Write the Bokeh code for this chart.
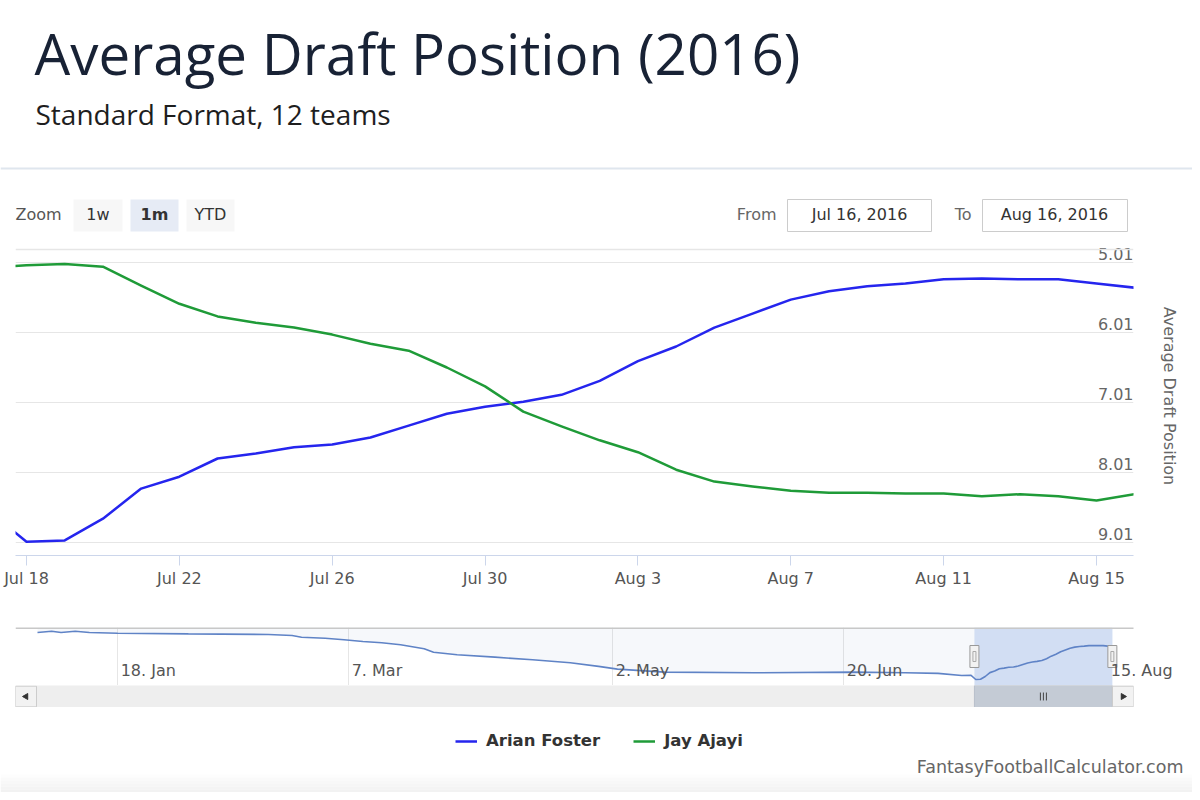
import math
import pandas as pd
from bokeh.plotting import figure
from bokeh.layouts import column
from bokeh.models import (Range1d, FixedTicker, DatetimeTickFormatter, Span, Legend,
                          LegendItem, LabelSet, ColumnDataSource, Grid)
from bokeh.core.properties import value
from bokeh.embed import file_html
from bokeh.resources import INLINE

# ------------------------------------------------------------------ data
title_text = "Average Draft Position (2016)"
subtitle_text = "Standard Format, 12 teams"
y_title = "Average Draft Position"
credits_text = "FantasyFootballCalculator.com"
series_names = ["Arian Foster", "Jay Ajayi"]
series_colors = ["#2525ee", "#1f9b38"]

dates = [d.strftime("%Y-%m-%d") for d in pd.date_range("2016-07-17", "2016-08-16")]
foster = [8.55, 9.00, 8.98, 8.67, 8.24, 8.07, 7.81, 7.74, 7.65, 7.61, 7.51, 7.34, 7.17, 7.07, 7.00,
          6.90, 6.70, 6.42, 6.21, 5.94, 5.74, 5.54, 5.42, 5.35, 5.31, 5.25, 5.24, 5.25, 5.25, 5.31, 5.37]
ajayi = [5.08, 5.05, 5.03, 5.07, 5.34, 5.60, 5.78, 5.87, 5.94, 6.04, 6.17, 6.27, 6.51, 6.78, 7.14,
         7.35, 7.55, 7.72, 7.97, 8.14, 8.21, 8.27, 8.30, 8.30, 8.31, 8.31, 8.35, 8.32, 8.35, 8.41, 8.32]

ytick_values = [5.01, 6.01, 7.01, 8.01, 9.01]
xtick_dates = ["2016-07-18", "2016-07-22", "2016-07-26", "2016-07-30",
               "2016-08-03", "2016-08-07", "2016-08-11", "2016-08-15"]

# navigator (Arian Foster, whole season so far)
nav_early_dates = ["2016-01-01", "2016-01-04", "2016-01-06", "2016-01-09", "2016-01-12", "2016-01-18",
                   "2016-02-02", "2016-02-19", "2016-02-24", "2016-02-26", "2016-03-02", "2016-03-06",
                   "2016-03-10", "2016-03-14", "2016-03-18", "2016-03-23", "2016-03-25", "2016-03-30",
                   "2016-04-07", "2016-04-15", "2016-04-23", "2016-04-29", "2016-05-03", "2016-05-13",
                   "2016-06-01", "2016-06-22", "2016-07-03", "2016-07-10", "2016-07-15"]
nav_early_values = [3.80, 3.66, 3.80, 3.66, 3.80, 3.88, 3.95, 4.02, 4.13, 4.32, 4.43, 4.61,
                    4.80, 4.94, 5.16, 5.60, 5.98, 6.27, 6.53, 6.82, 7.15, 7.55, 7.85, 8.19,
                    8.26, 8.19, 8.26, 8.32, 8.56]
nav_tick_dates = ["2016-01-18", "2016-03-07", "2016-05-02", "2016-06-20", "2016-08-15"]

zoom_buttons = ["1w", "1m", "YTD"]
selected_button = "1m"
range_from = "Jul 16, 2016"
range_to = "Aug 16, 2016"

# ------------------------------------------------------------------ helpers
DAY = 86400000.0
UI_FONT = "DejaVu Sans"
W = 1192
PLOT_L, PLOT_R = 15, 1133          # plot area edges (px)
HDR_H = 236


def ms(s):
    return pd.Timestamp(s).value / 1e6


def bare(p):
    p.grid.visible = False
    p.outline_line_color = None
    p.background_fill_color = "white"
    p.border_fill_color = "white"


# ------------------------------------------------------------------ header
hdr = figure(width=W, height=HDR_H, x_range=Range1d(0, W), y_range=Range1d(HDR_H, 0),
             x_axis_location=None, y_axis_location=None, min_border=0, frame_align=False,
             output_backend="svg", toolbar_location=None)
bare(hdr)
hdr.text(x=[34], y=[53], text=[title_text], text_font=value("Open Sans"), text_font_size="56.5px",
         text_color="#182235", text_baseline="middle")
hdr.text(x=[35], y=[113], text=[subtitle_text], text_font=value("Open Sans"), text_font_size="28px",
         text_color="#1e1e1e", text_baseline="middle")
hdr.segment(x0=[0], y0=[168], x1=[W], y1=[168], line_color="#dfe6ee", line_width=2)

hdr.text(x=[15], y=[214], text=["Zoom"], text_font=value(UI_FONT), text_font_size="16px",
         text_color="#555555", text_baseline="middle")
btn_src = ColumnDataSource(dict(
    left=[73, 130, 186], right=[122, 178, 234], cx=[97.5, 154, 210],
    text=zoom_buttons,
    fill=["#e6ebf5" if b == selected_button else "#f7f7f7" for b in zoom_buttons],
    style=["bold" if b == selected_button else "normal" for b in zoom_buttons]))
hdr.quad(left="left", right="right", top=199, bottom=231, fill_color="fill", line_color=None, source=btn_src)
hdr.text(x="cx", y=214, text="text", text_font=value(UI_FONT), text_font_size="16px",
         text_font_style="style", text_color="#333333", text_align="center",
         text_baseline="middle", source=btn_src)

hdr.text(x=[776, 971], y=[214, 214], text=["From", "To"], text_font=value(UI_FONT),
         text_font_size="16px", text_color="#666666", text_align="right", text_baseline="middle")
hdr.quad(left=[787, 982], right=[931, 1127], top=199, bottom=231, fill_color="white",
         line_color="#cccccc", line_width=1)
hdr.text(x=[859, 1054], y=[214, 214], text=[range_from, range_to], text_font=value(UI_FONT),
         text_font_size="16px", text_color="#333333", text_align="center", text_baseline="middle")

# ------------------------------------------------------------------ main chart
PX_PER_UNIT = 70.0
x_start = ms("2016-07-18") - 0.288 * DAY
x_end = ms("2016-08-15") + 0.968 * DAY
y_frame_top = ytick_values[0] - 26 / PX_PER_UNIT     # frame reaches above the plot line
y_plot_top = ytick_values[0] - 13 / PX_PER_UNIT      # top plot border line
y_bottom = ytick_values[-1] + 13 / PX_PER_UNIT

main = figure(width=W, height=369, x_axis_type="datetime", y_axis_location="right",
              x_range=Range1d(x_start, x_end), y_range=Range1d(y_bottom, y_frame_top),
              min_border_left=PLOT_L, min_border_right=W - PLOT_R, min_border_top=0,
              min_border_bottom=50, frame_align=False,
              output_backend="svg", toolbar_location=None)
main.outline_line_color = None
main.xgrid.visible = False
main.ygrid.ticker = FixedTicker(ticks=ytick_values)
main.ygrid.grid_line_color = "#e6e6e6"
main.ygrid.grid_line_width = 1.2

xa = main.xaxis[0]
xa.ticker = FixedTicker(ticks=[ms(d) for d in xtick_dates])
xa.formatter = DatetimeTickFormatter(days="%b %-d", months="%b %-d", hours="%b %-d",
                                     hourmin="%b %-d", years="%b %-d")
xa.axis_line_color = "#ccd6eb"
xa.axis_line_width = 1.2
xa.major_tick_line_color = "#ccd6eb"
xa.major_tick_out = 10
xa.major_tick_in = 0
xa.minor_tick_line_color = None
xa.major_label_standoff = 3
xa.major_label_text_font = UI_FONT
xa.major_label_text_font_size = "16px"
xa.major_label_text_color = "#555555"

ya = main.yaxis[0]
ya.ticker = FixedTicker(ticks=[])
ya.axis_line_color = None
ya.major_tick_line_color = None
ya.minor_tick_line_color = None
ya.axis_label = y_title
ya.axis_label_standoff = 26
ya.axis_label_text_font = UI_FONT
ya.axis_label_text_font_size = "16px"
ya.axis_label_text_font_style = "normal"
ya.axis_label_text_color = "#666666"

main.add_layout(Span(location=y_plot_top, dimension="width", line_color="#e6e6e6", line_width=1.5))

src = ColumnDataSource(dict(x=[ms(d) for d in dates], foster=foster, ajayi=ajayi))
main.line("x", "foster", source=src, line_color=series_colors[0], line_width=2.5, line_join="round")
main.line("x", "ajayi", source=src, line_color=series_colors[1], line_width=2.5, line_join="round")

main.text(x=x_end, y=ytick_values, text=[f"{v:.2f}" for v in ytick_values],
          text_align="right", text_baseline="middle", y_offset=-9,
          text_font=value(UI_FONT), text_font_size="16px", text_color="#666666")

# ------------------------------------------------------------------ navigator
NAV_DAY_PX = 4.715                               # px per day in the navigator
nav_x_start = ms("2016-01-01") - 22 / NAV_DAY_PX * DAY
nav_plot_end = nav_x_start + (PLOT_R - PLOT_L) / NAV_DAY_PX * DAY
nav_frame_end = nav_x_start + (W - PLOT_L) / NAV_DAY_PX * DAY
nav_y_top = 3.249
nav_y_bottom = 9.665

nav = figure(width=W, height=80, x_axis_type="datetime",
             x_range=Range1d(nav_x_start, nav_frame_end), y_range=Range1d(nav_y_bottom, nav_y_top),
             x_axis_location=None, y_axis_location=None,
             min_border_left=PLOT_L, min_border_right=0, min_border_top=22, min_border_bottom=0,
             frame_align=False, output_backend="svg", toolbar_location=None)
bare(nav)
nav.add_layout(Grid(dimension=0, ticker=FixedTicker(ticks=[ms(d) for d in nav_tick_dates[:-1]]),
                    grid_line_color="#e6e6e6", grid_line_width=1))

nav_x = [ms(d) for d in nav_early_dates] + [ms(d) for d in dates]
nav_y = nav_early_values + foster
nav.varea(x=nav_x, y1=nav_y, y2=nav_y_top, fill_color="#6685c2", fill_alpha=0.06)
nav.quad(left=[x_start], right=[x_end], top=nav_y_top, bottom=nav_y_bottom,
         fill_color="#d2def3", line_color=None)
nav.line(nav_x, nav_y, line_color="#5f83c6", line_width=1.6)
nav.segment(x0=[nav_x_start], y0=[nav_y_top], x1=[nav_plot_end], y1=[nav_y_top],
            line_color="#c8c8c8", line_width=3)

nav_mid = (nav_y_top + nav_y_bottom) / 2
nav.rect(x=[x_start, x_end], y=nav_mid, width=9, height=22, width_units="screen",
         height_units="screen", fill_color="#f2f2f2", line_color="#999999", line_width=1)
nav.rect(x=[x_start, x_end], y=nav_mid, width=3, height=10, width_units="screen",
         height_units="screen", fill_color=None, line_color="#aaaaaa", line_width=1)

nav_lbl = ColumnDataSource(dict(x=[ms(d) for d in nav_tick_dates],
                                text=[pd.Timestamp(d).strftime("%-d. %b") for d in nav_tick_dates]))
nav.add_layout(LabelSet(x="x", y=nav_y_bottom, text="text", source=nav_lbl, x_offset=3, y_offset=6,
                        text_font=value(UI_FONT), text_font_size="16px", text_color="#555555",
                        text_align="left", text_baseline="bottom"))

# ------------------------------------------------------------------ scrollbar
sb = figure(width=W, height=22, x_range=Range1d(nav_x_start, nav_plot_end), y_range=Range1d(0, 1),
            x_axis_location=None, y_axis_location=None,
            min_border_left=PLOT_L, min_border_right=W - PLOT_R, min_border_top=0, min_border_bottom=0,
            frame_align=False, output_backend="svg", toolbar_location=None)
bare(sb)
sb.background_fill_color = "#eeeeee"
px = DAY / NAV_DAY_PX
sb.quad(left=[x_start], right=[x_end], top=1, bottom=0, fill_color="#c4cbd5", line_color="#b8bfca")
grip_c = (x_start + x_end) / 2
sb.segment(x0=[grip_c - 3 * px, grip_c, grip_c + 3 * px], y0=0.32,
           x1=[grip_c - 3 * px, grip_c, grip_c + 3 * px], y1=0.68, line_color="#444444", line_width=1)
sb.quad(left=[nav_x_start, nav_plot_end - 21 * px], right=[nav_x_start + 21 * px, nav_plot_end],
        top=0.97, bottom=0.03, fill_color="#f2f2f2", line_color="#cccccc")
sb.scatter(x=[nav_x_start + 10.5 * px, nav_plot_end - 10.5 * px], y=[0.5, 0.5], marker="triangle",
           angle=[math.pi / 2, -math.pi / 2], size=6, fill_color="#333333", line_color="#333333")

# ------------------------------------------------------------------ legend + credits
bot = figure(width=W, height=85, x_range=Range1d(0, W), y_range=Range1d(792, 707),
             x_axis_location=None, y_axis_location=None, min_border=0, frame_align=False,
             output_backend="svg", toolbar_location=None)
bare(bot)
shades = ["#fdfdfd", "#fafafa", "#f8f8f8", "#f6f6f6", "#f4f4f4", "#f2f2f2"]
bot.quad(left=0, right=W, top=[774 + 3 * i for i in range(6)],
         bottom=[777 + 3 * i for i in range(6)], fill_color=shades, line_color=None)
dummy = [bot.line(x=[float("nan")], y=[float("nan")], line_color=c, line_width=2.5)
         for c in series_colors]
legend = Legend(items=[LegendItem(label=n, renderers=[r]) for n, r in zip(series_names, dummy)],
                location=(455, 42), orientation="horizontal", glyph_width=22, glyph_height=16,
                label_standoff=9, spacing=33, padding=0, margin=0, border_line_color=None,
                background_fill_alpha=0, label_text_font=UI_FONT, label_text_font_style="bold",
                label_text_font_size="16.5px", label_text_color="#333333")
bot.add_layout(legend)
bot.text(x=[1183], y=[766], text=[credits_text], text_font=value(UI_FONT), text_font_size="17.5px",
         text_color="#666666", text_align="right", text_baseline="middle")

layout = column(hdr, main, nav, sb, bot, spacing=0)
open("out.html", "w").write(file_html(layout, INLINE))
